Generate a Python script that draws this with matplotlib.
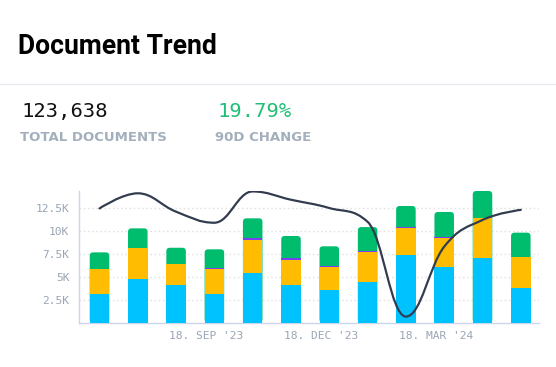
import numpy as np
import matplotlib
matplotlib.use("Agg")
import matplotlib.pyplot as plt
from matplotlib import font_manager
from matplotlib.patches import FancyBboxPatch, PathPatch
from matplotlib.path import Path
from matplotlib.lines import Line2D

# data (thousands of documents per month)
blue = [3.12, 4.75, 4.13, 3.12, 5.40, 4.13, 3.62, 4.42, 7.36, 6.05, 7.03, 3.80]
orange = [2.75, 3.43, 2.28, 2.70, 3.62, 2.76, 2.43, 3.28, 2.93, 3.15, 4.42, 3.41]
purple = [0, 0, 0, 0.18, 0.18, 0.18, 0.18, 0.18, 0.18, 0.18, 0, 0]
green = [1.81, 2.11, 1.77, 2.01, 2.18, 2.39, 2.11, 2.55, 2.25, 2.69, 2.90, 2.61]
trend = [12.45, 14.1, 12.1, 10.9, 14.3, 13.4, 12.5, 11.0, 0.7, 8.3, 11.2, 12.3]
ytick_vals = [2.5, 5, 7.5, 10, 12.5]
ytick_labels = ["2.5K", "5K", "7.5K", "10K", "12.5K"]
xtick_pos = [2.79, 5.79, 8.79]
xtick_labels = ["18. SEP '23", "18. DEC '23", "18. MAR '24"]

C_BLUE = '#00c2ff'
C_ORANGE = '#ffbc00'
C_PURPLE = '#7b3ff2'
C_GREEN = '#00bd6e'
C_LINE = '#323c4e'
C_LABEL = '#9aa5b4'

# plain Roboto Bold file, not a condensed cut
title_file = None
for f in font_manager.findSystemFonts():
    if f.endswith('Roboto-Bold.ttf'):
        title_file = f
        break

W, H = 556, 367
fig = plt.figure(figsize=(W / 100, H / 100), dpi=100)

def px(v):
    return v * 0.72  # px -> pt at 100 dpi

# header
if title_file:
    tprop = font_manager.FontProperties(fname=title_file, size=px(26.5))
else:
    tprop = font_manager.FontProperties(family='Roboto', weight='bold', size=px(26.5))
fig.text(18 / W, 1 - 54.3 / H, "Document Trend", fontproperties=tprop,
         color='#000000', va='baseline', ha='left')
fig.add_artist(Line2D([0, 1], [1 - 84 / H] * 2, color='#e6e9ef', lw=1.0))
fig.text(22 / W, 1 - 116.7 / H, "123,638", fontsize=px(20.5), family='DejaVu Sans Mono',
         color='#111111', va='baseline', ha='left')
fig.text(217 / W, 1 - 116.7 / H, "19.79%", fontsize=px(20.5), family='DejaVu Sans Mono',
         color='#1fbf75', va='baseline', ha='left')
fig.text(20 / W, 1 - 141 / H, "TOTAL DOCUMENTS", fontsize=px(13.3), fontweight='bold',
         family='DejaVu Sans', color='#a3afbd', va='baseline', ha='left')
fig.text(215 / W, 1 - 141 / H, "90D CHANGE", fontsize=px(13.3), fontweight='bold',
         family='DejaVu Sans', color='#a3afbd', va='baseline', ha='left')

# chart area
left_px, right_px, top_px, base_px = 79, 539, 191, 323
ax = fig.add_axes([left_px / W, 1 - base_px / H, (right_px - left_px) / W, (base_px - top_px) / H])
xmin, xmax = -0.535, 11.475
ymax = 14.35
ax.set_xlim(xmin, xmax)
ax.set_ylim(0, ymax)

x = np.arange(len(blue))
bw = 0.51

for v in ytick_vals:
    ax.axhline(v, color='#e3e3e3', lw=1.0, ls=(0, (1.2, 1.8)), zorder=0)

# rounded top on green segment
xs_px = (right_px - left_px) / (xmax - xmin)
ys_px = (base_px - top_px) / ymax
r = 3.5 / xs_px
asp = xs_px / ys_px
tops = np.array(blue) + np.array(orange) + np.array(purple) + np.array(green)
for xi, t in zip(x, tops):
    ax.add_patch(FancyBboxPatch((xi - bw / 2, 0), bw, t,
                                boxstyle=f"round,pad=0,rounding_size={r}",
                                mutation_aspect=asp, fc=C_GREEN, ec='none', zorder=2))

b1 = np.array(blue)
b2 = b1 + np.array(orange)
ax.bar(x, blue, bw, color=C_BLUE, zorder=3, lw=0)
ax.bar(x, orange, bw, bottom=b1, color=C_ORANGE, zorder=3, lw=0)
ax.bar(x, purple, bw, bottom=b2, color=C_PURPLE, zorder=3, lw=0)


def spline_path(xs, ys, sm=1.5):
    # same smoothing as the highcharts spline series
    n = len(xs)
    lc, rc = [None] * n, [None] * n
    d = sm + 1
    for i in range(n):
        if 0 < i < n - 1:
            lx = (sm * xs[i] + xs[i - 1]) / d
            ly = (sm * ys[i] + ys[i - 1]) / d
            rx = (sm * xs[i] + xs[i + 1]) / d
            ry = (sm * ys[i] + ys[i + 1]) / d
            corr = (ry - ly) * (rx - xs[i]) / (rx - lx) + ys[i] - ry
            ly += corr
            ry += corr
            if ly > ys[i - 1] and ly > ys[i]:
                ly = max(ys[i - 1], ys[i]); ry = 2 * ys[i] - ly
            elif ly < ys[i - 1] and ly < ys[i]:
                ly = min(ys[i - 1], ys[i]); ry = 2 * ys[i] - ly
            if ry > ys[i + 1] and ry > ys[i]:
                ry = max(ys[i + 1], ys[i]); ly = 2 * ys[i] - ry
            elif ry < ys[i + 1] and ry < ys[i]:
                ry = min(ys[i + 1], ys[i]); ly = 2 * ys[i] - ry
            lc[i], rc[i] = (lx, ly), (rx, ry)
        else:
            lc[i] = rc[i] = (xs[i], ys[i])
    verts = [(xs[0], ys[0])]
    codes = [Path.MOVETO]
    for i in range(1, n):
        verts += [rc[i - 1], lc[i], (xs[i], ys[i])]
        codes += [Path.CURVE4] * 3
    return Path(verts, codes)


ax.add_patch(PathPatch(spline_path(list(x), trend), fc='none', ec=C_LINE, lw=px(2.2),
                       zorder=5, capstyle='round', joinstyle='round'))

for s in ['top', 'right']:
    ax.spines[s].set_visible(False)
for s in ['left', 'bottom']:
    ax.spines[s].set_color('#ccd6eb')
    ax.spines[s].set_linewidth(1.0)

ax.set_yticks(ytick_vals)
ax.set_yticklabels(ytick_labels)
ax.set_xticks(xtick_pos)
ax.set_xticklabels(xtick_labels)
ax.tick_params(axis='both', length=0, labelcolor=C_LABEL, labelsize=px(11.3))
ax.tick_params(axis='y', pad=7)
ax.tick_params(axis='x', pad=6)
for lbl in ax.get_xticklabels() + ax.get_yticklabels():
    lbl.set_family('DejaVu Sans Mono')

fig.savefig("out.png", dpi=100)
